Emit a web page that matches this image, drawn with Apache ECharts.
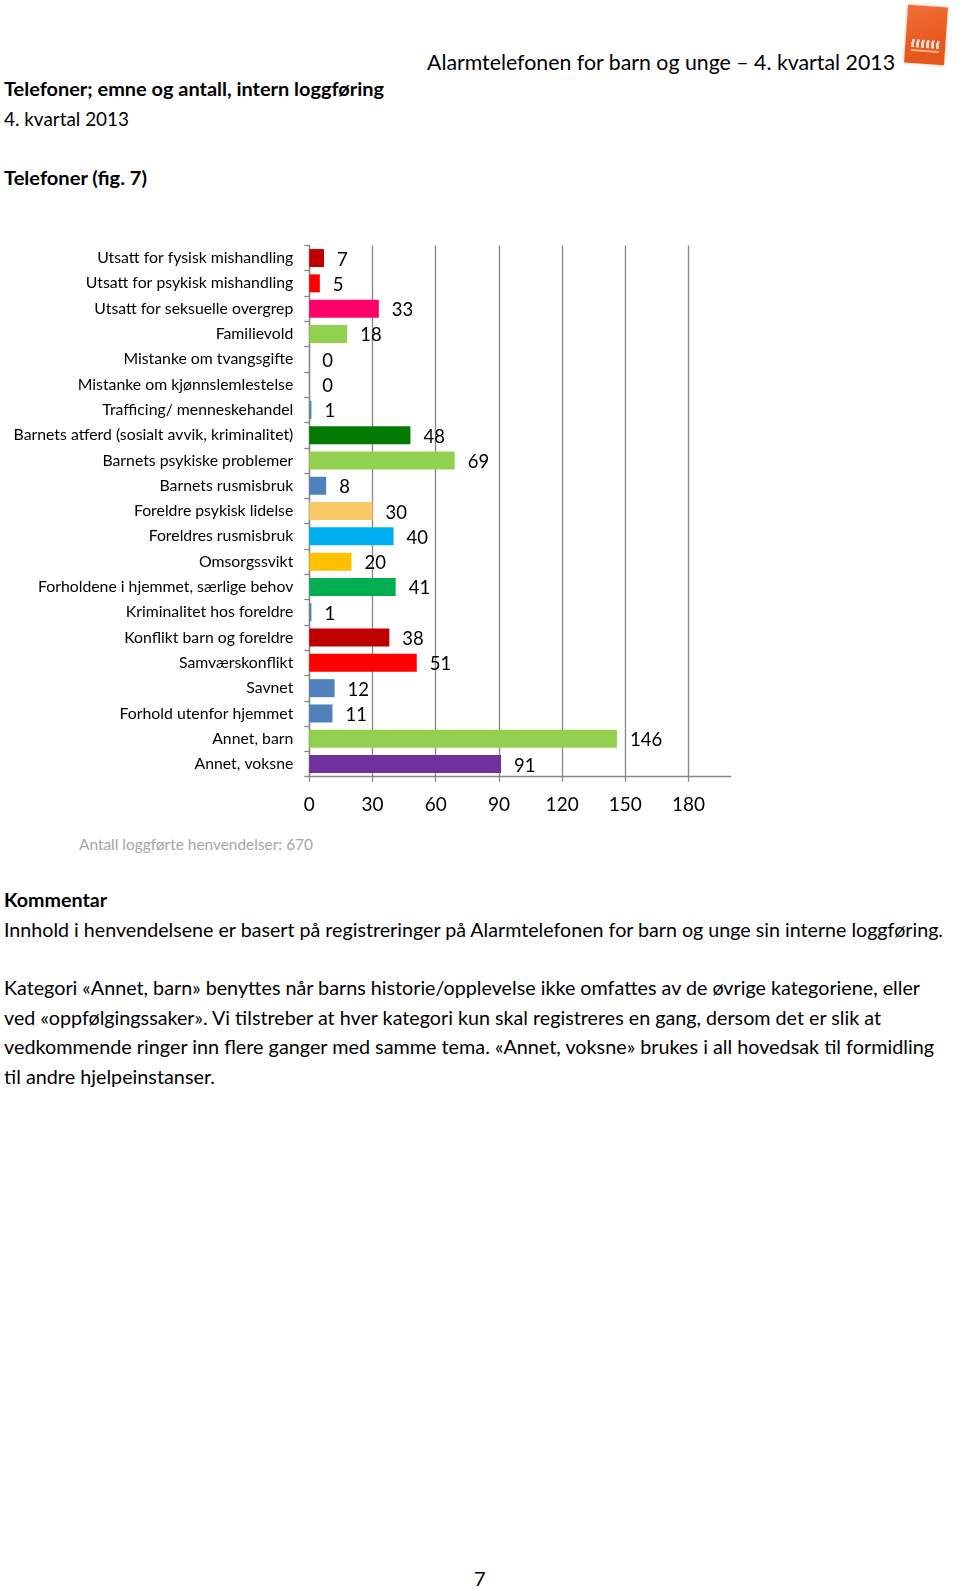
<!DOCTYPE html>
<html>
<head>
<meta charset="utf-8">
<script src="https://cdn.jsdelivr.net/npm/echarts@6/dist/echarts.min.js"></script>
<style>
  html, body { margin: 0; padding: 0; background: #fff; }
  body { width: 960px; height: 1589px; position: relative; overflow: hidden; font-family: Lato, "Open Sans", sans-serif; color: #000; }
  .t { position: absolute; white-space: nowrap; transform-origin: 0 50%; }
  #chart { position: absolute; left: 0; top: 230px; width: 960px; height: 600px; }
  #logo { position: absolute; left: 906px; top: 6px; width: 40px; height: 58px; transform: rotate(4deg);
          background: linear-gradient(160deg, #f0703a 0%, #e85a1e 60%, #e2561c 100%); box-shadow: 0 0 3px rgba(240,110,60,0.5); }
  #logo .w1 { position: absolute; left: 6px; top: 34px; width: 28px; height: 8px; background: repeating-linear-gradient(90deg, #fbd9c8 0 3px, #e85a1e 3px 5px); }
  #logo .w2 { position: absolute; left: 6px; top: 44px; width: 28px; height: 2px; background: #f6b28f; }
</style>
</head>
<body>
<div id="logo"><div class="w1"></div><div class="w2"></div></div>
<div class="t" data-w="468" style="left:427px; top:50px; height:24px; line-height:24px; font-size:21px;">Alarmtelefonen for barn og unge – 4. kvartal 2013</div>
<div class="t" data-w="380" style="left:4px; top:77px; height:24px; line-height:24px; font-size:19px; font-weight:bold;">Telefoner; emne og antall, intern loggføring</div>
<div class="t" data-w="125" style="left:4px; top:107px; height:24px; line-height:24px; font-size:19px;">4. kvartal 2013</div>
<div class="t" data-w="143" style="left:4px; top:166px; height:24px; line-height:24px; font-size:19px; font-weight:bold;">Telefoner (fig. 7)</div>
<div class="t" data-w="234" style="left:79px; top:834px; height:20px; line-height:20px; font-size:15px; color:#a6a6a6;">Antall loggførte henvendelser: 670</div>
<div class="t" data-w="103" style="left:4px; top:888px; height:24px; line-height:24px; font-size:19px; font-weight:bold;">Kommentar</div>
<div class="t" data-w="939" style="left:4px; top:918px; height:24px; line-height:24px; font-size:19px;">Innhold i henvendelsene er basert på registreringer på Alarmtelefonen for barn og unge sin interne loggføring.</div>
<div class="t" data-w="916" style="left:4px; top:976px; height:24px; line-height:24px; font-size:19px;">Kategori «Annet, barn» benyttes når barns historie/opplevelse ikke omfattes av de øvrige kategoriene, eller</div>
<div class="t" data-w="877" style="left:4px; top:1006px; height:24px; line-height:24px; font-size:19px;">ved «oppfølgingssaker». Vi tilstreber at hver kategori kun skal registreres en gang, dersom det er slik at</div>
<div class="t" data-w="930" style="left:4px; top:1035px; height:24px; line-height:24px; font-size:19px;">vedkommende ringer inn flere ganger med samme tema. «Annet, voksne» brukes i all hovedsak til formidling</div>
<div class="t" data-w="211" style="left:4px; top:1065px; height:24px; line-height:24px; font-size:19px;">til andre hjelpeinstanser.</div>
<div class="t" style="left:474px; top:1566px; height:24px; line-height:24px; font-size:20px;">7</div>
<div id="chart"></div>
<script>
const categories = [
  "Utsatt for fysisk mishandling",
  "Utsatt for psykisk mishandling",
  "Utsatt for seksuelle overgrep",
  "Familievold",
  "Mistanke om tvangsgifte",
  "Mistanke om kjønnslemlestelse",
  "Trafficing/ menneskehandel",
  "Barnets atferd (sosialt avvik, kriminalitet)",
  "Barnets psykiske problemer",
  "Barnets rusmisbruk",
  "Foreldre psykisk lidelse",
  "Foreldres rusmisbruk",
  "Omsorgssvikt",
  "Forholdene i hjemmet, særlige behov",
  "Kriminalitet hos foreldre",
  "Konflikt barn og foreldre",
  "Samværskonflikt",
  "Savnet",
  "Forhold utenfor hjemmet",
  "Annet, barn",
  "Annet, voksne"
];
const values = [7, 5, 33, 18, 0, 0, 1, 48, 69, 8, 30, 40, 20, 41, 1, 38, 51, 12, 11, 146, 91];
const barColors = ["#C00000", "#FF0000", "#FF0066", "#92D050", "#4F81BD", "#4F81BD", "#4F81BD",
  "#007A00", "#92D050", "#4F81BD", "#FAC864", "#00B0F0", "#FFC000", "#00B050", "#4F81BD",
  "#C00000", "#FF0000", "#4F81BD", "#4F81BD", "#92D050", "#7030A0"];
const xTicks = [0, 30, 60, 90, 120, 150, 180];
const xMax = 200;

// fit page texts to their reference widths
document.querySelectorAll('.t[data-w]').forEach(el => {
  const w = el.getBoundingClientRect().width;
  const target = +el.dataset.w;
  if (w > 0) el.style.transform = 'scaleX(' + (target / w) + ')';
});

const chart = echarts.init(document.getElementById('chart'), null, { renderer: 'canvas' });
chart.setOption({
  animation: false,
  grid: { left: 309.3, top: 15.4, width: 421.4, height: 531.3, containLabel: false },
  xAxis: {
    type: 'value', min: 0, max: xMax,
    axisLine: { show: true, lineStyle: { color: '#868686', width: 1.3 } },
    axisTick: { show: true, length: 5, customValues: xTicks, lineStyle: { color: '#868686', width: 1.3 } },
    axisLabel: { customValues: xTicks, color: '#000', fontSize: 19, fontFamily: 'Lato', margin: 19 },
    splitLine: { show: true, lineStyle: { color: '#868686', width: 1.3 } }
  },
  yAxis: {
    type: 'category', data: categories, inverse: true,
    axisLine: { show: true, lineStyle: { color: '#868686', width: 1.3 } },
    axisTick: { show: true, length: 5, lineStyle: { color: '#868686', width: 1.3 } },
    axisLabel: { color: '#000', fontSize: 15.8, fontFamily: 'Lato', margin: 16 }
  },
  series: [{
    type: 'bar', barWidth: 18,
    data: values.map((v, i) => ({ value: v, itemStyle: { color: barColors[i] } })),
    label: { show: true, position: 'right', distance: 13, offset: [0, 1.5], color: '#000', fontSize: 18.5, fontFamily: 'Lato' }
  }]
});
</script>
</body>
</html>
